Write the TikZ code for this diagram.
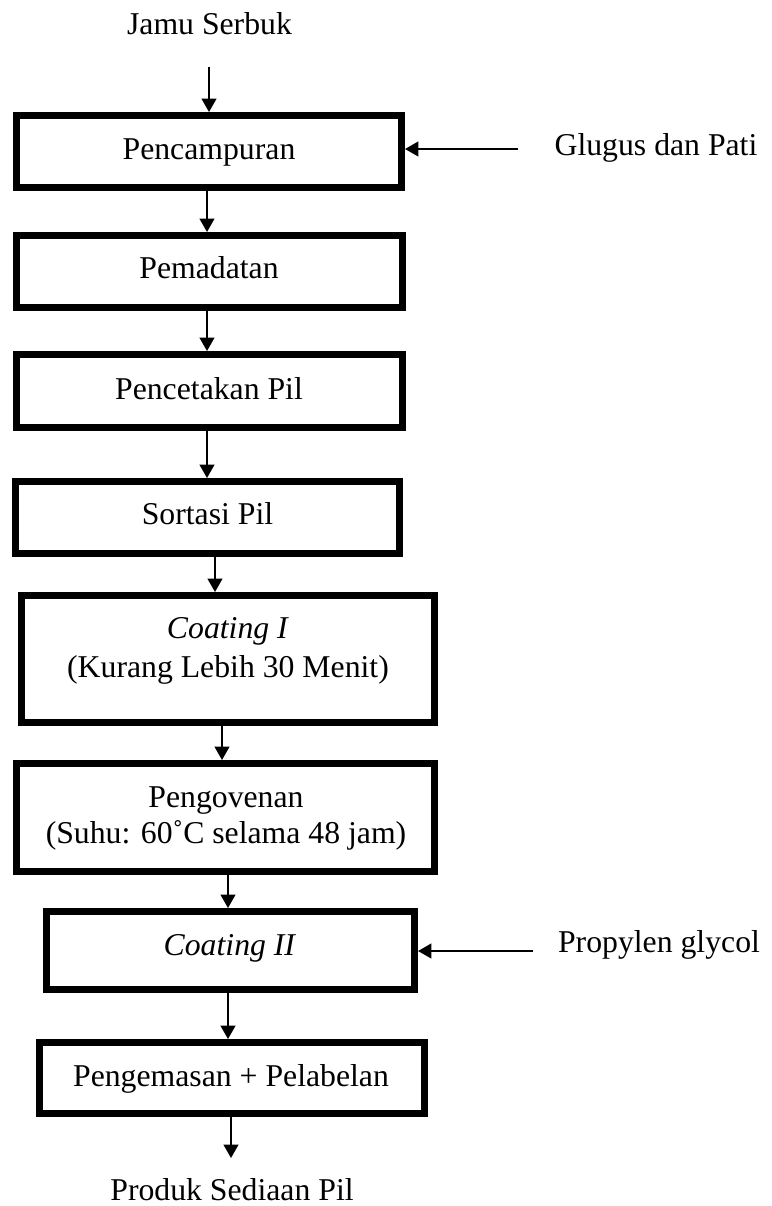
\documentclass[tikz,border=0pt]{standalone}
\usepackage{fontspec}
\setmainfont{Liberation Serif}
\usetikzlibrary{arrows.meta,fit}
\begin{document}
\begin{tikzpicture}[x=0.75pt,y=-0.75pt,
  box/.style={draw=black, line width=5.25pt, inner sep=0pt, rectangle},
  txt/.style={inner sep=0pt, font=\fontsize{23.8}{28}\selectfont, anchor=base},
  arr/.style={draw=black, line width=1.5pt, -{Triangle[length=10pt,width=11pt]}}]
\useasboundingbox (0,0) rectangle (771,1206);
% boxes
\node[box, fit={(16.5,115.5) (401.5,187.5)}] (b1) {};
\node[box, fit={(16.5,235.5) (402.5,307.5)}] (b2) {};
\node[box, fit={(16.5,354.5) (402.5,427.5)}] (b3) {};
\node[box, fit={(15.5,481.5) (399.5,553.5)}] (b4) {};
\node[box, fit={(21.5,595.5) (434.5,722.5)}] (b5) {};
\node[box, fit={(16.5,763.5) (434.5,871.5)}] (b6) {};
\node[box, fit={(46.5,911.5) (414.5,989.5)}] (b7) {};
\node[box, fit={(39.5,1042.5) (424.5,1113.5)}] (b8) {};
% texts
\node[txt] (t0) at (209.5,35) {Jamu Serbuk};
\node[txt] (t1) at (209,159) {Pencampuran};
\node[txt] (t2) at (209,278) {Pemadatan};
\node[txt] (t3) at (209,399) {Pencetakan Pil};
\node[txt] (t4) at (207.5,524) {Sortasi Pil};
\node[txt] (t5a) at (228,638) {\textit{Coating I}};
\node[txt] (t5b) at (228,677) {(Kurang Lebih 30 Menit)};
\node[txt] (t6a) at (226,807) {Pengovenan};
\node[txt] (t6b) at (226,843) {(Suhu: 60˚C selama 48 jam)};
\node[txt] (t7) at (230,955) {\textit{Coating II}};
\node[txt] (t8) at (231,1086) {Pengemasan + Pelabelan};
\node[txt] (t9) at (232,1200) {Produk Sediaan Pil};
\node[txt] (g) at (656,155) {Glugus dan Pati};
\node[txt] (p) at (659,952) {Propylen glycol};
% free ends
\coordinate (in0) at (209,67);
\coordinate (out9) at (231,1158);
\coordinate (ing) at (518,149);
\coordinate (inp) at (533,951);
% connectors
\draw[arr] (in0) -- (b1.north -| in0);
\draw[arr] (b1.south -| 207,0) -- (b2.north -| 207,0);
\draw[arr] (b2.south -| 207,0) -- (b3.north -| 207,0);
\draw[arr] (b3.south -| 207,0) -- (b4.north -| 207,0);
\draw[arr] (b4.south -| 215,0) -- (b5.north -| 215,0);
\draw[arr] (b5.south -| 222,0) -- (b6.north -| 222,0);
\draw[arr] (b6.south -| 228,0) -- (b7.north -| 228,0);
\draw[arr] (b7.south -| 228,0) -- (b8.north -| 228,0);
\draw[arr] (b8.south -| out9) -- (out9);
\draw[arr] (ing) -- (b1.east |- ing);
\draw[arr] (inp) -- (b7.east |- inp);
\end{tikzpicture}
\end{document}
